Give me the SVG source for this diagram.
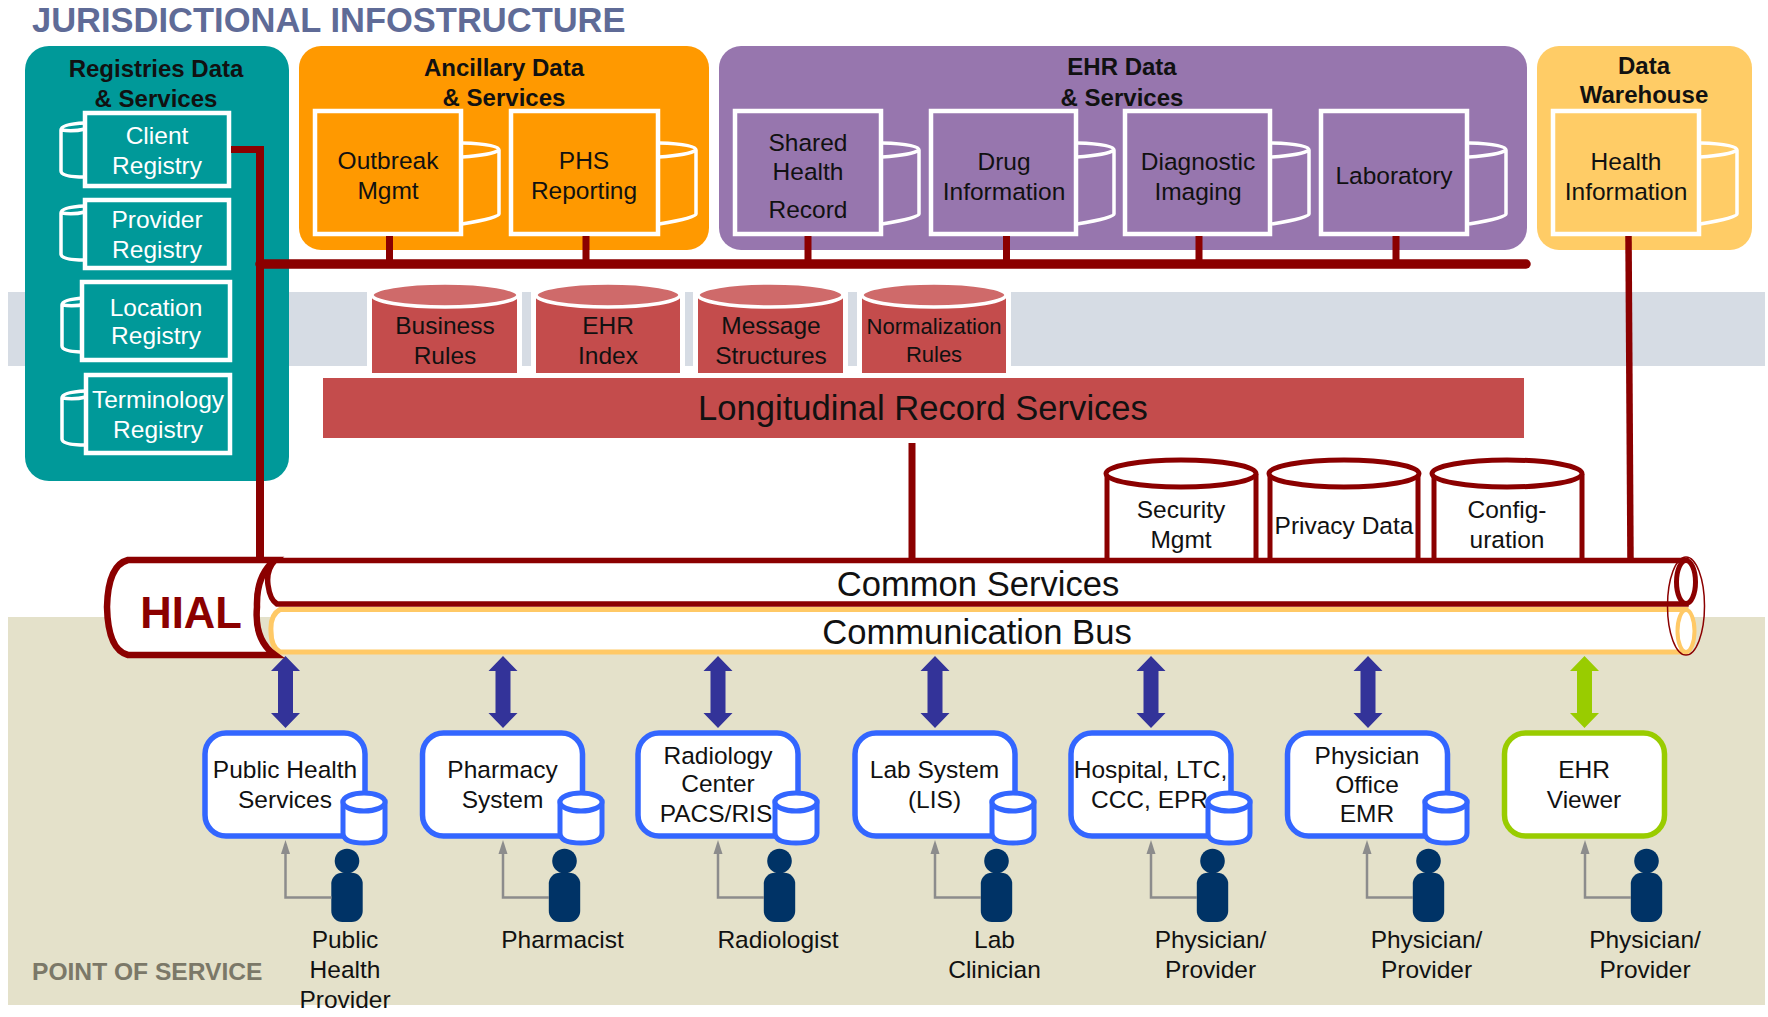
<svg xmlns="http://www.w3.org/2000/svg" width="1768" height="1017" viewBox="0 0 1768 1017">
<style>
text{font-family:"Liberation Sans",Arial,sans-serif;font-size:24.5px;fill:#111;text-anchor:middle}
.hd{font-weight:bold;font-size:24px}
.w{fill:#fff}
.big{font-size:34.6px}
.box{stroke:#fff;stroke-width:4.5}
.mug{fill:none;stroke:#fff;stroke-width:3.5}
.red{fill:#c44c4c;stroke:#fff;stroke-width:10;paint-order:stroke}
.redtop{fill:#cf6a6a;stroke:#fff;stroke-width:3.5}
.wc{fill:#fff;stroke:#8b0000;stroke-width:5}
.conn{fill:none;stroke:#8b0000}
.pos{fill:#fff;stroke:#3366ff;stroke-width:5.5}
.posg{fill:#fff;stroke:#99cc00;stroke-width:5.5}
.cyl{fill:#fff;stroke:#3366ff;stroke-width:5}
.gray{fill:none;stroke:#8c8c8c;stroke-width:2.5}
.prs{fill:#003366}
</style>
<defs>
<g id="mugR"><path class="mug" d="M0,0 Q37,1 37,7 V71 Q37,75 0,81 M0,14 Q30,12 37,7"/></g>
<g id="mugL"><path class="mug" d="M24,0 Q0,1 0,7 V48 Q0,54 24,54 M0,7 Q12,9 24,6"/></g>
<g id="dbl"><polygon points="0,0 14.5,15 7.5,15 7.5,57 14.5,57 0,72 -14.5,57 -7.5,57 -7.5,15 -14.5,15"/></g>
<g id="smallcyl"><path class="cyl" d="M-21,11 V42 Q-21,52 0,52 Q21,52 21,42 V11 Z"/><ellipse class="cyl" cx="0" cy="11" rx="21" ry="9"/></g>
<g id="person"><circle class="prs" cx="0" cy="0" r="12.3"/><rect class="prs" x="-15.7" y="11.7" width="31.4" height="49.3" rx="11"/><path class="gray" d="M-15.5,36.5 H-61.5 V-8"/><polygon points="-61.5,-21 -57,-7 -66,-7" fill="#8c8c8c"/></g>
</defs>

<rect id="band-grey" x="8" y="292" width="1757" height="74" fill="#d6dce4"/>
<rect id="band-tan" x="8" y="617" width="1757" height="388" fill="#e4e1ca"/>
<text id="title" x="32" y="32" style="text-anchor:start;font-weight:bold;font-size:34.5px;fill:#5f6b97">JURISDICTIONAL INFOSTRUCTURE</text>
<text id="pos-label" x="32" y="980" style="text-anchor:start;font-weight:bold;font-size:24.6px;fill:#7b7868">POINT OF SERVICE</text>

<g id="panel-registries"><rect x="25" y="46" width="264" height="435" rx="24" fill="#009999"/><text class="hd" x="156" y="77">Registries Data</text><text class="hd" x="156" y="107">&amp; Services</text></g>
<g id="client-registry"><use href="#mugL" x="61" y="123"/><rect class="box" x="85" y="113" width="144" height="73" fill="#009999"/><text class="w" x="157" y="144">Client</text><text class="w" x="157" y="174">Registry</text></g>
<g id="provider-registry"><use href="#mugL" x="61" y="206"/><rect class="box" x="85" y="200" width="144" height="68" fill="#009999"/><text class="w" x="157" y="228">Provider</text><text class="w" x="157" y="258">Registry</text></g>
<g id="location-registry"><use href="#mugL" x="62" y="298"/><rect class="box" x="82" y="282" width="148" height="78" fill="#009999"/><text class="w" x="156" y="316">Location</text><text class="w" x="156" y="344">Registry</text></g>
<g id="terminology-registry"><use href="#mugL" x="62" y="391"/><rect class="box" x="86" y="375" width="144" height="78" fill="#009999"/><text class="w" x="158" y="408">Terminology</text><text class="w" x="158" y="438">Registry</text></g>

<g id="panel-ancillary"><rect x="299" y="46" width="410" height="204" rx="22" fill="#ff9900"/><text class="hd" x="504" y="76">Ancillary Data</text><text class="hd" x="504" y="106">&amp; Services</text></g>
<g id="outbreak"><use href="#mugR" x="462" y="143"/><rect class="box" x="315" y="111" width="146" height="123" fill="#ff9900"/><text x="388" y="169">Outbreak</text><text x="388" y="199">Mgmt</text></g>
<g id="phs"><use href="#mugR" x="659" y="143"/><rect class="box" x="511" y="111" width="147" height="123" fill="#ff9900"/><text x="584" y="169">PHS</text><text x="584" y="199">Reporting</text></g>

<g id="panel-ehr"><rect x="719" y="46" width="808" height="204" rx="22" fill="#9776ae"/><text class="hd" x="1122" y="75">EHR Data</text><text class="hd" x="1122" y="106">&amp; Services</text></g>
<g id="shared-health"><use href="#mugR" x="882" y="143"/><rect class="box" x="735" y="111" width="146" height="123" fill="#9776ae"/><text x="808" y="151">Shared</text><text x="808" y="180">Health</text><text x="808" y="218">Record</text></g>
<g id="drug"><use href="#mugR" x="1077" y="143"/><rect class="box" x="931" y="111" width="145" height="123" fill="#9776ae"/><text x="1004" y="170">Drug</text><text x="1004" y="200">Information</text></g>
<g id="diagnostic"><use href="#mugR" x="1272" y="143"/><rect class="box" x="1125" y="111" width="145" height="123" fill="#9776ae"/><text x="1198" y="170">Diagnostic</text><text x="1198" y="200">Imaging</text></g>
<g id="laboratory"><use href="#mugR" x="1469" y="143"/><rect class="box" x="1321" y="111" width="146" height="123" fill="#9776ae"/><text x="1394" y="184">Laboratory</text></g>

<g id="panel-warehouse"><rect x="1537" y="46" width="215" height="204" rx="22" fill="#ffcc66"/><text class="hd" x="1644" y="74">Data</text><text class="hd" x="1644" y="103">Warehouse</text></g>
<g id="health-info"><use href="#mugR" x="1700" y="143"/><rect class="box" x="1553" y="111" width="146" height="123" fill="#ffcc66"/><text x="1626" y="170">Health</text><text x="1626" y="200">Information</text></g>

<g id="business-rules"><path class="red" d="M372,296 H517 V373 H372 Z"/><ellipse class="redtop" cx="445" cy="295" rx="73" ry="12"/><text x="445" y="334">Business</text><text x="445" y="364">Rules</text></g>
<g id="ehr-index"><path class="red" d="M536,296 H680 V373 H536 Z"/><ellipse class="redtop" cx="608" cy="295" rx="72" ry="12"/><text x="608" y="334">EHR</text><text x="608" y="364">Index</text></g>
<g id="message-structures"><path class="red" d="M698,296 H843 V373 H698 Z"/><ellipse class="redtop" cx="770.5" cy="295" rx="72.5" ry="12"/><text x="771" y="334">Message</text><text x="771" y="364">Structures</text></g>
<g id="normalization-rules"><path class="red" d="M862,296 H1006 V373 H862 Z"/><ellipse class="redtop" cx="934" cy="295" rx="72" ry="12"/><text x="934" y="334" style="font-size:22px" textLength="135" lengthAdjust="spacingAndGlyphs">Normalization</text><text x="934" y="362" style="font-size:22px">Rules</text></g>
<g id="longitudinal"><rect x="323" y="378" width="1201" height="60" fill="#c44c4c"/><text class="big" x="923" y="420">Longitudinal Record Services</text></g>

<g id="security-mgmt"><path class="wc" d="M1107,474 V562 H1256 V474"/><ellipse class="wc" cx="1181" cy="473.500" rx="75" ry="13.500"/><text x="1181" y="518">Security</text><text x="1181" y="548">Mgmt</text></g>
<g id="privacy-data"><path class="wc" d="M1270,474 V562 H1418 V474"/><ellipse class="wc" cx="1344" cy="473.500" rx="75" ry="13.500"/><text x="1344" y="534">Privacy Data</text></g>
<g id="configuration"><path class="wc" d="M1434,474 V562 H1582 V474"/><ellipse class="wc" cx="1507" cy="473.500" rx="75" ry="13.500"/><text x="1507" y="518">Config-</text><text x="1507" y="548">uration</text></g>

<g id="connectors">
<path class="conn" stroke-width="7" d="M231,149.500 H260"/>
<path class="conn" stroke-width="8" d="M260,146 V560"/>
<path class="conn" stroke-width="9.500" stroke-linecap="round" d="M260,264 H1526"/>
<path class="conn" stroke-width="7" d="M389.500,236 V260 M586,236 V260 M808,236 V260 M1006.500,236 V260 M1199,236 V260 M1396,236 V260"/>
<path class="conn" stroke-width="6.500" d="M1628.500,236 L1630.500,560"/>
<path class="conn" stroke-width="7" d="M912,443 V560"/>
<g fill="#333399"><use href="#dbl" x="285.500" y="656"/><use href="#dbl" x="503" y="656"/><use href="#dbl" x="718" y="656"/><use href="#dbl" x="935" y="656"/><use href="#dbl" x="1151" y="656"/><use href="#dbl" x="1368" y="656"/></g>
<use href="#dbl" x="1584.500" y="656" fill="#99cc00"/>
</g>

<g id="communication-bus"><path d="M1686,609.500 H280 Q270,615 271,631 Q271,647 280,652 H1686 Z" fill="#fff" stroke="#ffc966" stroke-width="5"/><ellipse cx="1686" cy="631" rx="8.500" ry="21" fill="#fff" stroke="#ffc966" stroke-width="4"/><text class="big" x="977" y="644">Communication Bus</text></g>
<g id="common-services"><path d="M1686,560.500 H275 Q266,570 268,585 Q270,600 277,604 H1686 Z" fill="#fff" stroke="#8b0000" stroke-width="5.500"/><ellipse cx="1686" cy="582" rx="9.500" ry="21.500" fill="#fff" stroke="#8b0000" stroke-width="5"/><ellipse cx="1686" cy="606" rx="18.500" ry="49" fill="none" stroke="#8b0000" stroke-width="1.500"/><text class="big" x="978" y="596">Common Services</text></g>
<g id="hial"><path d="M275,560 H128 Q108,565 107,607 Q108,650 128,655 H275 Q254,640 257,607 Q256,575 275,560 Z" fill="#fff" stroke="#8b0000" stroke-width="6.500"/><text x="191" y="628" style="font-weight:bold;font-size:43.500px;fill:#8b0000">HIAL</text></g>

<g id="public-health-services"><rect class="pos" x="205" y="733" width="160" height="103" rx="21"/><text x="285" y="778">Public Health</text><text x="285" y="808">Services</text><use href="#smallcyl" x="364" y="791"/></g>
<g id="pharmacy-system"><rect class="pos" x="422.500" y="733" width="160" height="103" rx="21"/><text x="502.500" y="778">Pharmacy</text><text x="502.500" y="808">System</text><use href="#smallcyl" x="581" y="791"/></g>
<g id="radiology-center"><rect class="pos" x="638" y="733" width="160" height="103" rx="21"/><text x="718" y="764">Radiology</text><text x="718" y="792">Center</text><text x="716" y="822">PACS/RIS</text><use href="#smallcyl" x="796" y="791"/></g>
<g id="lab-system"><rect class="pos" x="855" y="733" width="160" height="103" rx="21"/><text x="934.500" y="778">Lab System</text><text x="934.500" y="808">(LIS)</text><use href="#smallcyl" x="1013" y="791"/></g>
<g id="hospital"><rect class="pos" x="1071" y="733" width="160" height="103" rx="21"/><text x="1150.500" y="778">Hospital, LTC,</text><text x="1149.500" y="808">CCC, EPR</text><use href="#smallcyl" x="1229" y="791"/></g>
<g id="physician-office"><rect class="pos" x="1287.500" y="733" width="160" height="103" rx="21"/><text x="1367" y="764">Physician</text><text x="1367" y="793">Office</text><text x="1367" y="822">EMR</text><use href="#smallcyl" x="1446" y="791"/></g>
<g id="ehr-viewer"><rect class="posg" x="1504.500" y="733" width="160" height="103" rx="21"/><text x="1584" y="778">EHR</text><text x="1584" y="808">Viewer</text></g>

<g id="actor-public-health"><use href="#person" x="347" y="861"/><text x="345" y="948">Public</text><text x="345" y="978">Health</text><text x="345" y="1008">Provider</text></g>
<g id="actor-pharmacist"><use href="#person" x="564.500" y="861"/><text x="562.500" y="948">Pharmacist</text></g>
<g id="actor-radiologist"><use href="#person" x="779.500" y="861"/><text x="778" y="948">Radiologist</text></g>
<g id="actor-lab"><use href="#person" x="996.500" y="861"/><text x="994.500" y="948">Lab</text><text x="994.500" y="978">Clinician</text></g>
<g id="actor-hospital"><use href="#person" x="1212.500" y="861"/><text x="1210.500" y="948">Physician/</text><text x="1210.500" y="978">Provider</text></g>
<g id="actor-office"><use href="#person" x="1428.500" y="861"/><text x="1426.500" y="948">Physician/</text><text x="1426.500" y="978">Provider</text></g>
<g id="actor-viewer"><use href="#person" x="1646.500" y="861"/><text x="1645" y="948">Physician/</text><text x="1645" y="978">Provider</text></g>
</svg>
